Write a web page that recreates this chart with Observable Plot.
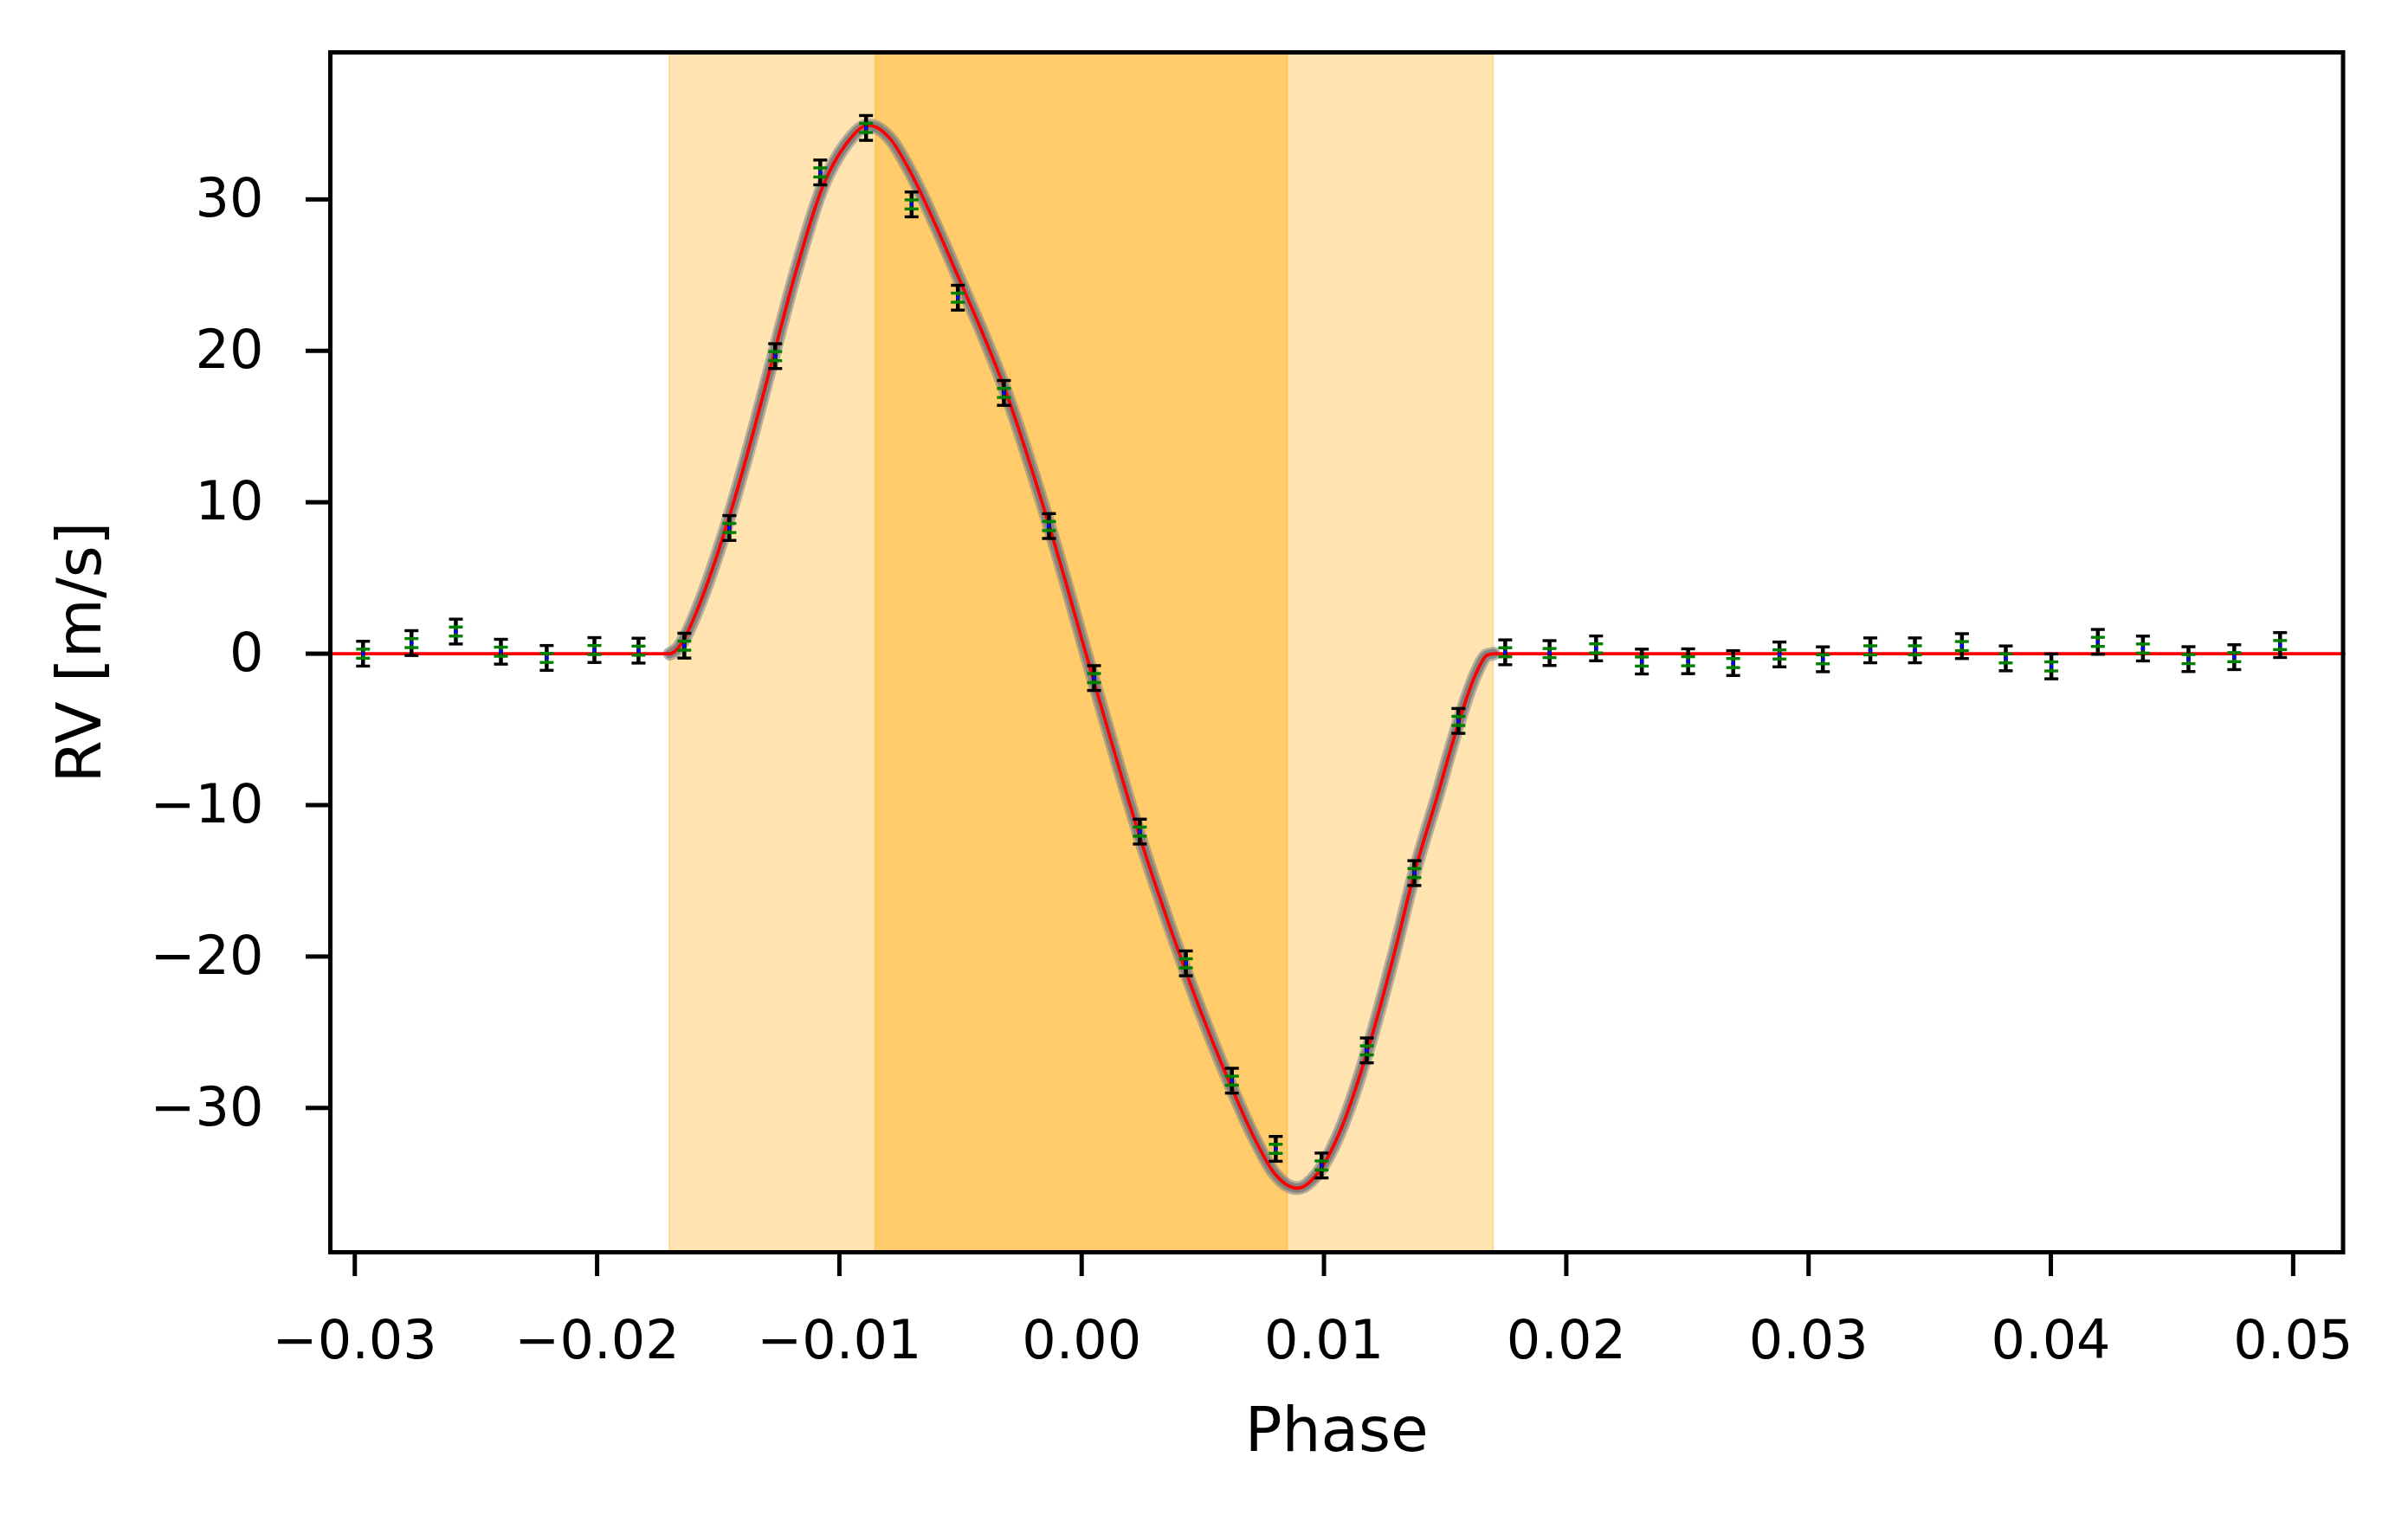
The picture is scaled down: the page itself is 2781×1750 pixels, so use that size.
<!DOCTYPE html>
<html>
<head>
<meta charset="utf-8">
<script src="https://cdn.jsdelivr.net/npm/d3@7"></script>
<script src="https://cdn.jsdelivr.net/npm/@observablehq/plot@0.6"></script>
<style>
  html, body { margin: 0; padding: 0; background: white; }
  #chart { width: 2781px; height: 1750px; }
</style>
</head>
<body>
<div id="chart"></div>
<script>
// ---- Data ----
const obsPhase = [
  -0.02966, -0.02766, -0.02583, -0.02397, -0.02208, -0.02011, -0.01829, -0.01640,
  -0.01454, -0.01265, -0.01079, -0.00890, -0.00702, -0.00511, -0.00321, -0.00135,
   0.00051,  0.00240,  0.00430,  0.00620,  0.00801,  0.00990,  0.01177,  0.01373, 0.01555,
   0.01748,  0.01931,  0.02123,  0.02312,  0.02503,  0.02689,  0.02880,  0.03059,
   0.03255,  0.03439,  0.03633,  0.03814,  0.04002,  0.04194,  0.04380,  0.04568,
   0.04757,  0.04946
];
const obsRV = [
   0.00,  0.70,  1.46,  0.13, -0.28,  0.24,  0.20,  0.53,
   8.30, 19.65, 31.78, 34.72, 29.67, 23.51, 17.22,  8.43,
  -1.61, -11.75, -20.45, -28.20, -32.70, -33.80, -26.20, -14.49, -4.44,
   0.09,  0.04,  0.35, -0.52, -0.50, -0.62, -0.05, -0.37,
   0.22,  0.22,  0.50, -0.31, -0.84,  0.78,  0.34, -0.36,
  -0.23,  0.57
];
const errTotal = 0.82;   // outer (black) error bar, m/s
const errInstr = 0.30;   // inner (green) error bar, m/s

// best-fit model curve
const modelPhase = [
  -0.0311, -0.0170, -0.01664, -0.0164, -0.01569, -0.01509, -0.01461, -0.0139, -0.01288,
  -0.0118, -0.0107, -0.00975, -0.0088, -0.0079, -0.0070, -0.0060, -0.0051, -0.0041,
  -0.0032, -0.00135, 0.0005, 0.0024, 0.0043, 0.0062, 0.0071, 0.0079, 0.0089,
   0.0097, 0.01065, 0.01184, 0.0129, 0.01373, 0.01466, 0.01555, 0.01625, 0.01673,
   0.0170, 0.0521
];
const modelRV = [
    0, 0, 0.4, 1.0, 3.6, 6.3, 8.7, 12.6, 18.7,
  25.2, 30.8, 33.6, 34.9, 34.0, 31.6, 28.2, 24.9, 21.2,
  17.6, 8.5, -1.8, -12.1, -21.0, -28.7, -31.9, -34.2, -35.3,
 -34.4, -31.6, -26.0, -19.8, -14.5, -9.5, -4.6, -1.4, -0.1,
    0, 0
];

const transitOuter = [-0.0170, 0.0170];   // light shaded band
const transitInner = [-0.0085, 0.0085];   // darker shaded band

const xTicks = [-0.03, -0.02, -0.01, 0.00, 0.01, 0.02, 0.03, 0.04, 0.05];
const yTicks = [-30, -20, -10, 0, 10, 20, 30];
const xLimits = [-0.03101, 0.05206];
const yLimits = [-39.53, 39.71];
const xLabel = "Phase";
const yLabel = "RV [m/s]";

// ---- Tables ----
const points = obsPhase.map((p, i) => ({phase: p, rv: obsRV[i]}));
const model = modelPhase.map((p, i) => ({phase: p, rv: modelRV[i]}));
const bands = [
  {x1: transitOuter[0], x2: transitOuter[1], kind: "outer"},
  {x1: transitInner[0], x2: transitInner[1], kind: "inner"}
];

const capSymbol = {
  draw(context, size) {
    const r = Math.sqrt(size / Math.PI);
    context.moveTo(-r, 0);
    context.lineTo(r, 0);
  }
};

const inTransit = model.filter(d => d.phase > transitOuter[0] - 0.0002 && d.phase < transitOuter[1] + 0.0002);

const chart = Plot.plot({
  width: 2781,
  height: 1750,
  marginLeft: 381,
  marginRight: 75.5,
  marginTop: 60,
  marginBottom: 304,
  style: {fontFamily: "'DejaVu Sans', sans-serif", background: "white", color: "black"},
  x: {domain: xLimits, label: null},
  y: {domain: yLimits, label: null},
  marks: [
    Plot.rect(bands.filter(d => d.kind === "outer"), {x1: "x1", x2: "x2", fill: "#ffa500", fillOpacity: 0.3, stroke: "#ffa500", strokeOpacity: 0.3, strokeWidth: 2}),
    Plot.rect(bands.filter(d => d.kind === "inner"), {x1: "x1", x2: "x2", fill: "#ffa500", fillOpacity: 0.4, stroke: "#ffa500", strokeOpacity: 0.35, strokeWidth: 2}),
    // posterior envelope (grey)
    Plot.line(inTransit, {x: "phase", y: "rv", curve: "monotone-x", stroke: "#808080", strokeOpacity: 0.55, strokeWidth: 16}),
    Plot.line(inTransit, {x: "phase", y: "rv", curve: "monotone-x", stroke: "#808080", strokeOpacity: 0.9, strokeWidth: 11}),
    Plot.line(model, {x: "phase", y: "rv", curve: "monotone-x", stroke: "#ff0000", strokeWidth: 3.8}),
    // black (total) error bars
    Plot.ruleX(points, {x: "phase", y1: d => d.rv - errTotal, y2: d => d.rv + errTotal, stroke: "black", strokeWidth: 4.5}),
    Plot.dot(points, {x: "phase", y: d => d.rv + errTotal, symbol: capSymbol, r: 8, stroke: "black", fill: "none", strokeWidth: 3.4}),
    Plot.dot(points, {x: "phase", y: d => d.rv - errTotal, symbol: capSymbol, r: 8, stroke: "black", fill: "none", strokeWidth: 3.4}),
    // green (instrumental) error bars
    Plot.ruleX(points, {x: "phase", y1: d => d.rv - errInstr, y2: d => d.rv + errInstr, stroke: "#008000", strokeWidth: 2.2}),
    Plot.dot(points, {x: "phase", y: d => d.rv + errInstr, symbol: capSymbol, r: 8, stroke: "#008000", fill: "none", strokeWidth: 3.4}),
    Plot.dot(points, {x: "phase", y: d => d.rv - errInstr, symbol: capSymbol, r: 8, stroke: "#008000", fill: "none", strokeWidth: 3.4}),
    // markers
    Plot.dot(points, {x: "phase", y: "rv", r: 2.3, fill: "#0000ff", stroke: "none"}),
    Plot.frame({stroke: "black", strokeWidth: 5}),
    Plot.axisX({ticks: xTicks, tickFormat: d3.format(".2f"), tickSize: 28, tickPadding: 50, strokeWidth: 5, fontSize: 62, label: null}),
    Plot.axisY({ticks: yTicks, tickFormat: d3.format("d"), tickSize: 28, tickPadding: 49, strokeWidth: 5, fontSize: 62, label: null}),
    Plot.text([xLabel], {text: d => d, frameAnchor: "bottom", dy: 229, lineAnchor: "bottom", fontSize: 71, fill: "black"}),
    Plot.text([yLabel], {text: d => d, frameAnchor: "left", dx: -266, rotate: -90, lineAnchor: "bottom", textAnchor: "middle", fontSize: 71, fill: "black"})
  ]
});
document.getElementById("chart").appendChild(chart);
</script>
</body>
</html>
